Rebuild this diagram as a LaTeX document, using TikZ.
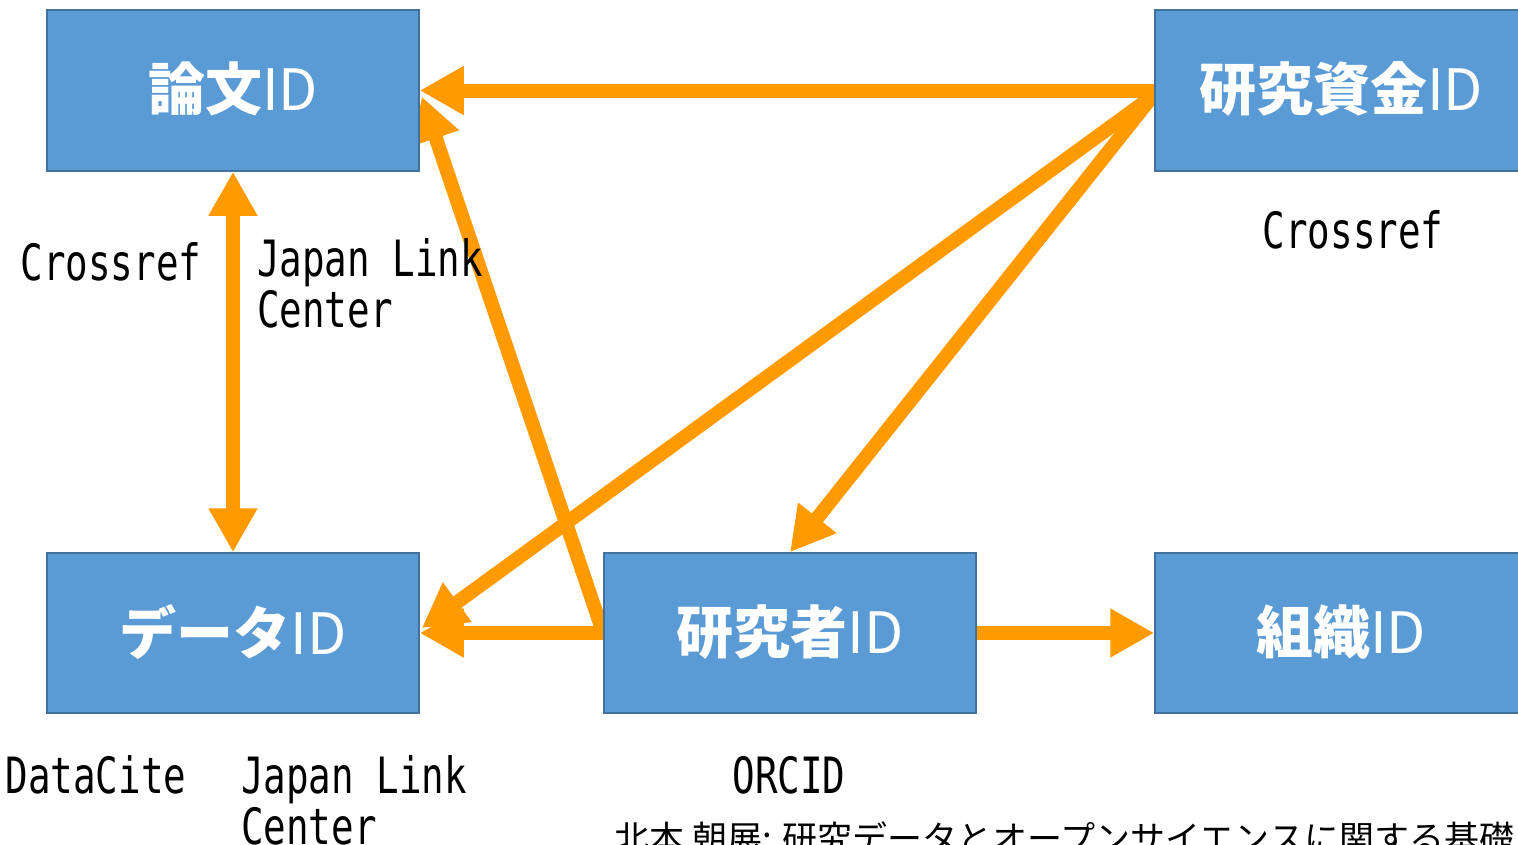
\documentclass[tikz,border=0pt]{standalone}
\usepackage{fontspec}
\newfontfamily\jp{Noto Sans CJK JP}
\newfontfamily\lblfont{DejaVu Sans Mono}[FakeStretch=0.75]
\usetikzlibrary{arrows.meta,calc}
\definecolor{boxfill}{HTML}{5B9BD5}
\definecolor{boxedge}{HTML}{41719C}
\definecolor{linkor}{HTML}{FF9A00}
\pgfdeclarelayer{bg}
\pgfsetlayers{bg,main}
\newcommand\boxtext[2]{\raisebox{8pt}{{\bfseries #1}#2}}
\begin{document}
\begin{tikzpicture}[x=1pt,y=-1pt,
 idbox/.style={draw=boxedge,fill=boxfill,line width=1.5pt,minimum width=372pt,minimum height=161pt,inner sep=0pt,text=white,font=\jp\fontsize{57}{60}\selectfont},
 link/.style={draw=linkor,line width=14pt,-{Triangle[length=44pt,width=46pt]}},
 dlink/.style={draw=linkor,line width=14pt,{Triangle[length=44pt,width=46pt]}-{Triangle[length=44pt,width=46pt]}},
 lbl/.style={inner sep=0pt,font=\lblfont\fontsize{50}{51}\selectfont}
]
\useasboundingbox (0,0) rectangle (1518,844);
\node[idbox] (p) at (233,90.5) {\boxtext{論文}{ID}};
\node[idbox] (f) at (1341,90.5) {\boxtext{研究資金}{ID}};
\node[idbox,minimum height=160pt] (d) at (233,633) {\boxtext{データ}{ID}};
\node[idbox,minimum height=160pt] (r) at (790,633) {\boxtext{研究者}{ID}};
\node[idbox,minimum height=160pt] (o) at (1341,633) {\boxtext{組織}{ID}};
\coordinate (fs) at ($(f.west)+(-2,6)$);
\coordinate (pin) at ($(p.east)+(2,6)$);
\coordinate (din) at ($(d.east)+(2,-5)$);
\begin{pgfonlayer}{bg}
\draw[link] (f.west) -- (p.east);
\draw[link] (r.west) -- (pin);
\draw[link] (fs) -- (din);
\draw[link] (fs) -- (r.north);
\draw[link] (r.west) -- (d.east);
\draw[dlink] (p.south) -- (d.north);
\draw[link] (r.east) -- (o.west);
\end{pgfonlayer}
\node[lbl,anchor=base] (l1) at (111,280) {Crossref};
\node[lbl,anchor=north west,align=left] (l2) at (257,238) {Japan Link\\Center};
\node[lbl,anchor=base] (l3) at (1353,248) {Crossref};
\node[lbl,anchor=base] (l4) at (96,793) {DataCite};
\node[lbl,anchor=north west,align=left] (l5) at (241,755) {Japan Link\\Center};
\node[lbl,anchor=base] (l6) at (789,793) {ORCID};
\node[anchor=base west,inner sep=0pt,font=\jp\fontsize{35}{35}\selectfont] (cap) at (614,851) {北本 朝展: 研究データとオープンサイエンスに関する基礎};
\end{tikzpicture}
\end{document}
